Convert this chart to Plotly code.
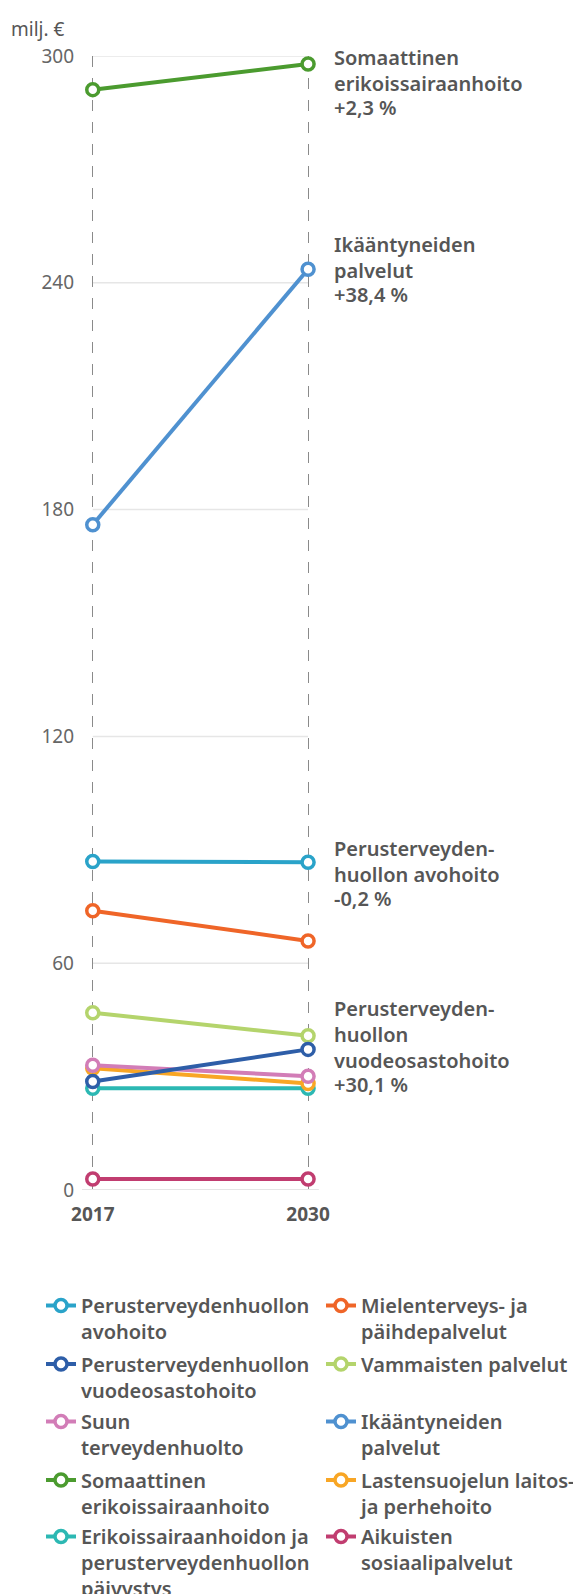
import plotly.graph_objects as go

# ---------------- data ----------------
years = [2017, 2030]

legend_labels = [
    "Perusterveydenhuollon<br>avohoito",
    "Mielenterveys- ja<br>päihdepalvelut",
    "Perusterveydenhuollon<br>vuodeosastohoito",
    "Vammaisten palvelut",
    "Suun<br>terveydenhuolto",
    "Ikääntyneiden<br>palvelut",
    "Somaattinen<br>erikoissairaanhoito",
    "Lastensuojelun laitos-<br>ja perhehoito",
    "Erikoissairaanhoidon ja<br>perusterveydenhuollon<br>päivystys",
    "Aikuisten<br>sosiaalipalvelut",
]
values_2017 = [86.9, 73.9, 28.7, 46.9, 33.0, 176.0, 291.1, 32.2, 26.9, 2.9]
values_2030 = [86.7, 65.9, 37.2, 40.8, 30.1, 243.6, 297.9, 28.2, 26.9, 2.9]
colors = ["#2aa3c9", "#ef6528", "#2e5ea8", "#b4d46c", "#d27db7",
          "#4f91d0", "#4b9b2f", "#f8a625", "#2cb8b3", "#c13d70"]

# direct labels at the right end
label_series = [6, 5, 0, 2]
label_names = ["Somaattinen<br>erikoissairaanhoito", "Ikääntyneiden<br>palvelut",
               "Perusterveyden-<br>huollon avohoito",
               "Perusterveyden-<br>huollon<br>vuodeosastohoito"]
label_changes = ["+2,3 %", "+38,4 %", "-0,2 %", "+30,1 %"]

y_ticks = [0, 60, 120, 180, 240, 300]

# ---------------- layout constants ----------------
W, H = 573, 1594
ML, MR, MT, MB = 82, 0, 56, 404
PLOT_W = W - ML - MR
PLOT_H = H - MT - MB
X_PAD = 0.65
PX_PER_YEAR = (307.8 - 92.5) / 13
x_min = years[0] - X_PAD
x_max = x_min + PLOT_W / PX_PER_YEAR

FONT = "Noto Sans"
TXT = "#565656"

fig = go.Figure()

# draw in reverse so first series ends up on top
for i in reversed(range(len(legend_labels))):
    row = i // 2
    fig.add_trace(go.Scatter(
        x=years, y=[values_2017[i], values_2030[i]],
        mode="lines+markers",
        name=legend_labels[i],
        line=dict(color=colors[i], width=4),
        marker=dict(symbol="circle", size=12, color="white",
                    line=dict(color=colors[i], width=3.5)),
        cliponaxis=False,
        legend="legend" if row == 0 else f"legend{row + 1}",
        legendwidth=235 if i % 2 == 0 else 225,
        hoverinfo="skip",
    ))

shapes = []
for v in y_ticks:
    if v == 0:
        shapes.append(dict(type="line", xref="x", yref="y", x0=years[0] - X_PAD,
                           x1=years[-1] + X_PAD, y0=v, y1=v, layer="below",
                           line=dict(color="#dcdcdc", width=1.5)))
    else:
        shapes.append(dict(type="line", xref="x", yref="y", x0=years[0],
                           x1=years[-1], y0=v, y1=v, layer="below",
                           line=dict(color="#e6e6e6", width=1.5)))

annotations = []
name_shift = {6: -7, 5: 12, 0: 1, 2: 15}
pct_shift = {6: -44, 5: -25, 0: -36, 2: -35}
for s, nm, ch in zip(label_series, label_names, label_changes):
    annotations.append(dict(x=years[-1], y=values_2030[s], xref="x", yref="y",
                            text=nm, showarrow=False, xanchor="left", yanchor="middle",
                            align="left", xshift=24, yshift=name_shift[s],
                            font=dict(family=FONT, size=20, color=TXT, weight=600)))
    annotations.append(dict(x=years[-1], y=values_2030[s], xref="x", yref="y",
                            text=ch, showarrow=False, xanchor="left", yanchor="middle",
                            align="left", xshift=24, yshift=pct_shift[s],
                            font=dict(family=FONT, size=20, color=TXT, weight=600)))

annotations.append(dict(x=0, y=1, xref="paper", yref="paper", text="milj. €",
                        showarrow=False, xanchor="right", yanchor="middle",
                        xshift=-15, yshift=27,
                        font=dict(family=FONT, size=19, color=TXT)))

# legends: one per row
row_tops = [1286, 1344.5, 1402, 1460.5, 1517]
legend_left = 41
legends = {}
for r, top in enumerate(row_tops):
    key = "legend" if r == 0 else f"legend{r + 1}"
    legends[key] = dict(
        orientation="h", x=(legend_left - ML) / PLOT_W, y=(MT + PLOT_H - top) / PLOT_H,
        xref="paper", yref="paper", xanchor="left", yanchor="top",
        traceorder="reversed", valign="top", bgcolor="rgba(0,0,0,0)",
        font=dict(family=FONT, size=20, color=TXT, weight=600),
        itemclick=False, itemdoubleclick=False,
    )

fig.update_layout(
    width=W, height=H,
    margin=dict(l=ML, r=MR, t=MT, b=MB, autoexpand=False),
    paper_bgcolor="white", plot_bgcolor="white",
    showlegend=True,
    xaxis=dict(range=[x_min, x_max], tickvals=years,
               ticktext=[f"<b>{y}</b>" for y in years],
               showgrid=True, gridcolor="#8a8a8a", gridwidth=1, griddash="11px,11px",
               zeroline=False, showline=False, ticks="",
               tickfont=dict(family=FONT, size=19, color=TXT),
               ticklabelstandoff=11, fixedrange=True),
    yaxis=dict(range=[0, 300], tickvals=y_ticks, showgrid=False, zeroline=False,
               showline=False, ticks="", ticklabelstandoff=7,
               tickfont=dict(family=FONT, size=19, color="#666666"), fixedrange=True),
    shapes=shapes,
    annotations=annotations,
    **legends,
)

fig.write_html("out.html")
